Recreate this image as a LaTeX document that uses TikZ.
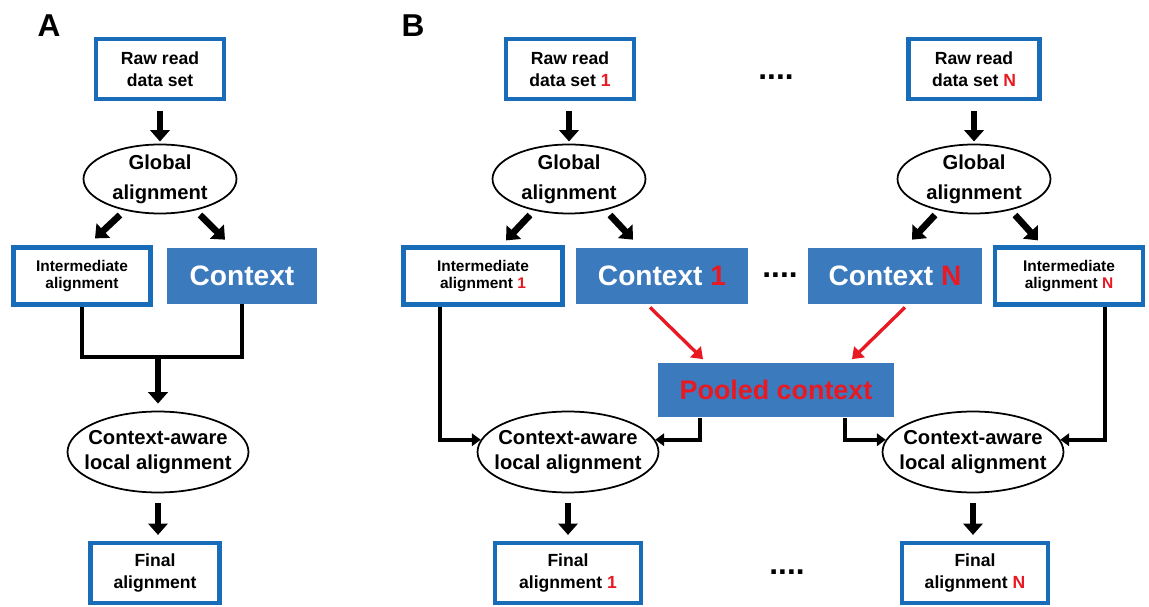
\documentclass[tikz,border=0pt]{standalone}
\usepackage{fontspec}
\setmainfont{Liberation Sans}
\usetikzlibrary{shapes.geometric, arrows.meta}

\definecolor{lineblue}{RGB}{25,108,183}
\definecolor{ctxblue}{RGB}{60,122,190}
\definecolor{numred}{RGB}{232,25,35}
\newcommand{\nr}[1]{\textcolor{numred}{#1}}

\begin{document}
\begin{tikzpicture}[x=0.02cm, y=-0.02cm]

\tikzset{databox/.style = {draw=lineblue, line width=2.4pt, fill=white, align=center, inner sep=0pt, minimum width=2.56cm, minimum height=1.2cm, font=\fontsize{10}{12.5}\selectfont\bfseries}}
\tikzset{midbox/.style = {databox, minimum height=1.14cm, font=\fontsize{8.8}{9.8}\selectfont\bfseries}}
\tikzset{ctxbox/.style = {fill=ctxblue, text=white, inner sep=0pt, minimum height=1.12cm, font=\fontsize{16}{18}\selectfont\bfseries}}
\tikzset{oval/.style = {ellipse, draw, line width=1pt, inner xsep=-10pt, inner ysep=0pt, align=center, font=\fontsize{11.5}{17}\selectfont\bfseries}}
\tikzset{bigoval/.style = {oval, minimum width=3.62cm, minimum height=1.62cm, font=\fontsize{11.5}{14}\selectfont\bfseries}}
\tikzset{fatarrow/.style = {line width=3.8pt, -{Triangle[width=11pt,length=6.5pt]}}}
\tikzset{wire/.style = {line width=2.2pt}}
\tikzset{link/.style = {line width=2.2pt, -{Triangle[width=7pt,length=5pt]}}}
\tikzset{redarrow/.style = {numred, line width=1.9pt, -{Triangle[width=8.5pt,length=6pt]}}}
\tikzset{dots/.style = {anchor=base, font=\fontsize{18}{18}\selectfont\bfseries}}
\tikzset{panel/.style = {font=\fontsize{18}{18}\selectfont\bfseries}}

\useasboundingbox (0,0) rectangle (1149,607);

% panel A
\node[panel] (labA) at (49,26) {A};
\node[databox] (rawA) at (160,69) {Raw read\\data set};
\node[oval, minimum width=3.06cm, minimum height=1.3cm] (gA) at (160,179) {Global\\alignment};
\node[midbox, minimum width=2.74cm] (interA) at (82,276) {Intermediate\\alignment};
\node[ctxbox, minimum width=3cm] (ctxA) at (242,276) {Context};
\coordinate (mA) at (158,357);
\node[bigoval] (caA) at (158,452) {Context-aware\\local alignment};
\node[databox, minimum width=2.58cm] (finA) at (155,573) {Final\\alignment};

% panel B
\node[panel] (labB) at (413,26) {B};
\node[databox] (raw1) at (570,69) {Raw read\\data set \nr{1}};
\node[dots] (dotsT) at (776,80) {....};
\node[databox, minimum width=2.62cm] (rawN) at (974,69) {Raw read\\data set \nr{N}};
\node[oval, minimum width=3.06cm, minimum height=1.3cm] (g1) at (569,179) {Global\\alignment};
\node[oval, minimum width=3.06cm, minimum height=1.3cm] (gN) at (974,179) {Global\\alignment};
\node[midbox, minimum width=3.18cm] (inter1) at (483,276) {Intermediate\\alignment \nr{1}};
\node[ctxbox, minimum width=3.46cm] (ctx1) at (662,276) {Context \nr{1}};
\node[dots] (dotsM) at (780,278) {....};
\node[ctxbox, minimum width=3.5cm] (ctxN) at (895,276) {Context \nr{N}};
\node[midbox, minimum width=2.96cm] (interN) at (1069,276) {Intermediate\\alignment \nr{N}};
\node[ctxbox, minimum width=4.74cm, minimum height=1.1cm, text=numred, font=\fontsize{15.3}{17}\selectfont\bfseries] (pool) at (776,390) {Pooled context};
\node[bigoval] (ca1) at (568,452) {Context-aware\\local alignment};
\node[bigoval] (caN) at (973,452) {Context-aware\\local alignment};
\node[databox, minimum width=2.92cm] (fin1) at (568,573) {Final\\alignment \nr{1}};
\node[dots] (dotsB) at (787,574) {....};
\node[databox, minimum width=2.92cm] (finN) at (975,573) {Final\\alignment \nr{N}};

% edges, panel A
\draw[fatarrow, shorten <=5.5pt, shorten >=1.2pt] (rawA) -- (gA);
\draw[fatarrow] ([shift={(-40,36)}]gA.center) -- ([shift={(13,-7)}]interA.north);
\draw[fatarrow] ([shift={(40,36)}]gA.center) -- ([shift={(-17,-8)}]ctxA.north);
\draw[wire] (interA.south) |- (mA) -| (ctxA.south);
\draw[fatarrow, shorten >=4pt] (mA) -- (caA);
\draw[fatarrow, shorten <=5.5pt, shorten >=3.4pt] (caA) -- (finA.north -| caA);

% edges, panel B
\draw[fatarrow, shorten <=5.5pt, shorten >=1.2pt] (raw1.south -| g1) -- (g1);
\draw[fatarrow, shorten <=5.5pt, shorten >=1.2pt] (rawN) -- (gN);
\draw[fatarrow] ([shift={(-39,36)}]g1.center) -- ([shift={(23,-5)}]inter1.north);
\draw[fatarrow] ([shift={(41,36)}]g1.center) -- ([shift={(-29,-8)}]ctx1.north);
\draw[fatarrow] ([shift={(-39,36)}]gN.center) -- ([shift={(17,-8)}]ctxN.north);
\draw[fatarrow] ([shift={(41,36)}]gN.center) -- ([shift={(-31,-5)}]interN.north);
\draw[redarrow] ([shift={(-12,3)}]ctx1.south) -- ([shift={(-73,-3)}]pool.north);
\draw[redarrow] ([shift={(10,3)}]ctxN.south) -- ([shift={(76,-3)}]pool.north);
\draw[link] ([xshift=-43*0.02cm]inter1.south) |- (ca1.172);
\draw[link] ([xshift=-76*0.02cm]pool.south) |- (ca1.8);
\draw[link] ([xshift=69*0.02cm]pool.south) |- (caN.172);
\draw[link] ([xshift=36*0.02cm]interN.south) |- (caN.8);
\draw[fatarrow, shorten <=5.5pt, shorten >=3.4pt] (ca1) -- (fin1);
\draw[fatarrow, shorten <=5.5pt, shorten >=3.4pt] (caN) -- (finN.north -| caN);

\end{tikzpicture}
\end{document}
